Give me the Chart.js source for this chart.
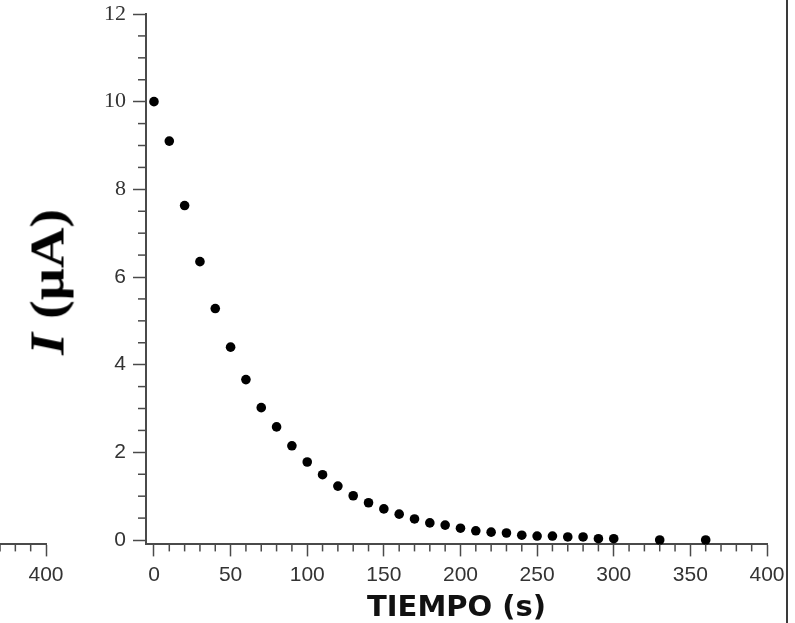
<!DOCTYPE html>
<html><head><meta charset="utf-8">
<script src="https://cdn.jsdelivr.net/npm/chart.js@4.4.1/dist/chart.umd.min.js"></script>
<style>
html,body{margin:0;padding:0;background:#fff;overflow:hidden;}
#wrap{position:relative;width:795px;height:623px;overflow:hidden;background:#fff;}
#main{position:absolute;left:0;top:0;}
#frag{position:absolute;left:-700px;top:0;}
#ytitle{position:absolute;left:47px;top:282px;transform:translate(-50%,-50%) rotate(-90deg) scaleX(1.15);font-family:"Liberation Serif",serif;font-weight:bold;font-size:49px;white-space:nowrap;color:#000;line-height:1;}
#rborder{position:absolute;left:786px;top:0;width:2px;height:623px;background:#3a3a3a;}
</style></head><body>
<div id="wrap">
<canvas id="frag" width="780" height="623"></canvas>
<canvas id="main" width="795" height="623"></canvas>
<div id="ytitle"><i>I</i> (μA)</div>
<div id="rborder"></div>
</div>
<script>
// ---- data ----
const timeS = [0,10,20,30,40,50,60,70,80,90,100,110,120,130,140,150,160,170,180,190,200,210,220,230,240,250,260,270,280,290,300,330,360];
const currentUA = [10.0,9.1,7.63,6.35,5.28,4.4,3.66,3.02,2.58,2.15,1.78,1.49,1.23,1.01,0.85,0.71,0.59,0.48,0.39,0.34,0.27,0.21,0.18,0.16,0.11,0.09,0.09,0.07,0.07,0.03,0.03,0.0,0.0];
const xTickValues = [0,50,100,150,200,250,300,350,400];
const yTickValues = [0,2,4,6,8,10,12];
const xMinorStep = 10;
const yMinorStep = 0.5;
const xTitle = 'TIEMPO (s)';

const axisColor = '#4a4a4a';
const labelColor = '#333333';

const minorTicks = {
  id: 'minorTicks',
  afterDraw(chart) {
    const {ctx, chartArea: a, scales} = chart;
    ctx.save();
    ctx.strokeStyle = axisColor;
    ctx.lineWidth = 1.5;
    const xs = scales.x;
    if (xs) {
      const n = Math.round(400 / xMinorStep);
      for (let i = 0; i <= n; i++) {
        const v = i * xMinorStep;
        if (xTickValues.includes(v)) continue;
        const px = xs.getPixelForValue(v);
        ctx.beginPath(); ctx.moveTo(px, a.bottom); ctx.lineTo(px, a.bottom + 7); ctx.stroke();
      }
    }
    const ys = scales.y;
    if (ys && ys.options.display) {
      const n = Math.round(12 / yMinorStep);
      for (let i = 0; i <= n; i++) {
        const v = i * yMinorStep;
        if (yTickValues.includes(v)) continue;
        const py = ys.getPixelForValue(v);
        ctx.beginPath(); ctx.moveTo(a.left - 8, py); ctx.lineTo(a.left, py); ctx.stroke();
      }
    }
    ctx.restore();
  }
};

function xScale(showTitle) {
  return {
    type: 'linear', min: -5.2, max: 400,
    afterBuildTicks: s => { s.ticks = xTickValues.map(v => ({value: v})); },
    afterFit: s => { s.height = 78.6; s.paddingLeft = 0; s.paddingRight = 0; },
    border: {display: true, color: axisColor, width: 2},
    grid: {display: true, drawOnChartArea: false, drawTicks: true, tickLength: 12, tickColor: axisColor, tickWidth: 1.5},
    ticks: {color: labelColor, font: {family: 'Liberation Sans', size: 21}, padding: 6, maxRotation: 0, autoSkip: false, callback: v => String(v)},
    title: {display: showTitle, text: xTitle, color: '#111', font: {family: 'DejaVu Sans', weight: 'bold', size: 29}, padding: {top: 0, bottom: -3}}
  };
}

new Chart(document.getElementById('main'), {
  type: 'scatter',
  data: {datasets: [{
    data: timeS.map((t, i) => ({x: t, y: currentUA[i]})),
    backgroundColor: '#000', borderWidth: 0, pointRadius: 4.8, showLine: false, clip: false
  }]},
  options: {
    responsive: false, animation: false, devicePixelRatio: 1,
    layout: {padding: {left: 96, right: 28, top: 14, bottom: 0}},
    plugins: {legend: {display: false}, tooltip: {enabled: false}},
    scales: {
      x: xScale(true),
      y: {
        type: 'linear', min: -0.1, max: 12,
        afterBuildTicks: s => { s.ticks = yTickValues.map(v => ({value: v})); },
        afterFit: s => { s.width = 50; s.paddingTop = 0; s.paddingBottom = 0; },
        border: {display: true, color: axisColor, width: 2},
        grid: {display: true, drawOnChartArea: false, drawTicks: true, tickLength: 13, tickColor: axisColor, tickWidth: 1.5},
        ticks: {color: labelColor, padding: 7, autoSkip: false, callback: v => String(v),
          font: c => (c.tick && c.tick.value >= 8) ? {family: 'Liberation Serif', size: 22} : {family: 'Liberation Sans', size: 21}}
      }
    }
  },
  plugins: [minorTicks]
});

new Chart(document.getElementById('frag'), {
  type: 'scatter',
  data: {datasets: []},
  options: {
    responsive: false, animation: false, devicePixelRatio: 1,
    layout: {padding: {left: 125, right: 34, top: 14, bottom: 0}},
    plugins: {legend: {display: false}, tooltip: {enabled: false}},
    scales: {
      x: xScale(false),
      y: {type: 'linear', min: -0.1, max: 12, display: false}
    }
  },
  plugins: [minorTicks]
});
</script>
</body></html>
